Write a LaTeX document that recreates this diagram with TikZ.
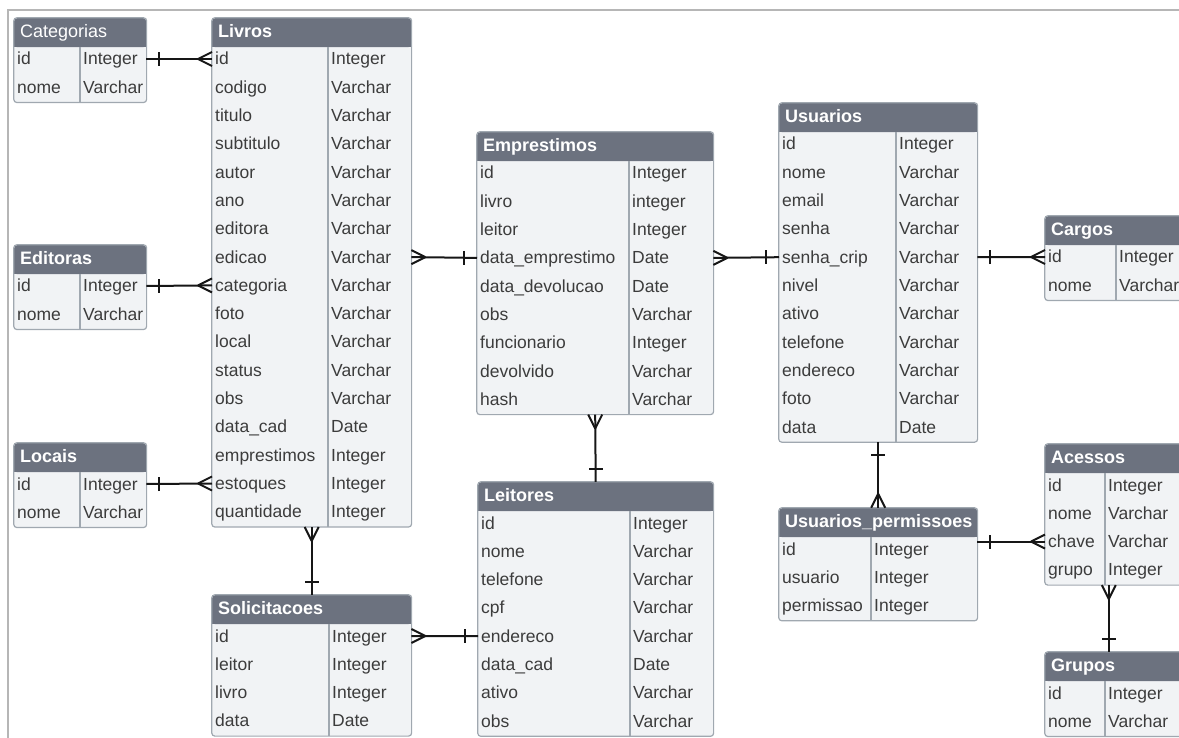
\documentclass[tikz,border=0pt]{standalone}
\usepackage{fontspec}
\setmainfont{Liberation Sans}
\usetikzlibrary{positioning, calc, fit, backgrounds}
\definecolor{headgrey}{RGB}{108,114,127}
\definecolor{rowbg}{RGB}{241,243,245}
\definecolor{cellline}{RGB}{160,168,176}
\definecolor{cellink}{RGB}{60,60,60}
\definecolor{framegrey}{RGB}{182,182,182}
\definecolor{relink}{RGB}{22,22,22}

\tikzset{
  headcell/.style={fill=headgrey, rounded corners=3pt, minimum height=29, inner sep=0pt},
  headtext/.style={text=white, font=\fontsize{18}{20}\selectfont\bfseries, inner xsep=6pt, inner ysep=0pt, text height=13pt, text depth=4pt},
  rowcell/.style={minimum height=28.3, inner sep=0pt},
  celltext/.style={text=cellink, font=\fontsize{17.5}{19}\selectfont, inner xsep=3pt, inner ysep=0pt, text height=13pt, text depth=1pt},
  cellrule/.style={draw=cellline, line width=1.2pt},
  relline/.style={draw=relink, line width=2pt},
  onebar/.pic={\draw[relline] (-13,-7) -- (-13,7);},
  crowfoot/.pic={\draw[relline] (-14,0) -- (0,-7) (-14,0) -- (0,7);}
}

% tabela: nome, x, y, largura, divisoria, titulo, campos
\newcommand{\erdtable}[7]{%
  \node[headcell, minimum width=#4, anchor=north west] (#1-head) at (#2,#3) {};
  \fill[headgrey] (#1-head.west) rectangle (#1-head.south east);
  \node[headtext, anchor=west] (#1-title) at (#1-head.west) {#6};
  \foreach \f/\t [count=\i from 0] in {#7} {
    \node[rowcell, minimum width=#4, anchor=west] (#1-\f) at (#2, #3+41+28.3*\i) {};
    \node[celltext, anchor=west] (#1-\f-n) at (#1-\f.west) {\f};
    \node[celltext, anchor=west] (#1-\f-t) at (#2+#5, #3+41+28.3*\i) {\t};
    \coordinate (#1-bot) at (#2+#4, #3+56+28.3*\i);
  }
  \node[fit=(#1-head)(#1-bot), inner sep=0pt] (#1) {};
  \begin{scope}[on background layer]
    \fill[rowbg, rounded corners=3pt] (#1.north west) rectangle (#1.south east);
  \end{scope}
  \coordinate (#1-div) at (#2+#5, #3+29);
  \draw[cellrule] (#1-div) -- (#1-div |- #1.south);
  \draw[cellrule, rounded corners=3pt] (#1.north west) rectangle (#1.south east);
}

\begin{document}
\catcode`\_=12
\begin{tikzpicture}[x=1pt, y=-1pt]
  \useasboundingbox (0,0) rectangle (1179,738);
  \clip (0,0) rectangle (1179,738);
  \draw[framegrey, line width=2pt] (8,738) -- (8,10) -- (1179,10);

  % Tabelas do acervo
  \erdtable{categorias}{14}{18}{132}{66}{\mdseries Categorias}{id/Integer, nome/Varchar}
  \erdtable{livros}{212}{18}{199}{116}{Livros}{id/Integer, codigo/Varchar, titulo/Varchar,
    subtitulo/Varchar, autor/Varchar, ano/Varchar, editora/Varchar, edicao/Varchar,
    categoria/Varchar, foto/Varchar, local/Varchar, status/Varchar, obs/Varchar,
    data_cad/Date, emprestimos/Integer, estoques/Integer, quantidade/Integer}
  \erdtable{editoras}{14}{245}{132}{66}{Editoras}{id/Integer, nome/Varchar}
  \erdtable{locais}{14}{443}{132}{66}{Locais}{id/Integer, nome/Varchar}
  \erdtable{solicitacoes}{212}{595}{199}{117}{Solicitacoes}{id/Integer, leitor/Integer,
    livro/Integer, data/Date}

  % Emprestimos e leitores
  \erdtable{emprestimos}{477}{132}{236}{152}{Emprestimos}{id/Integer, livro/integer,
    leitor/Integer, data_emprestimo/Date, data_devolucao/Date, obs/Varchar,
    funcionario/Integer, devolvido/Varchar, hash/Varchar}
  \erdtable{leitores}{478}{482}{235}{152}{Leitores}{id/Integer, nome/Varchar,
    telefone/Varchar, cpf/Varchar, endereco/Varchar, data_cad/Date, ativo/Varchar,
    obs/Varchar}

  % Usuarios e permissoes
  \erdtable{usuarios}{779}{103}{198}{117}{Usuarios}{id/Integer, nome/Varchar,
    email/Varchar, senha/Varchar, senha_crip/Varchar, nivel/Varchar, ativo/Varchar,
    telefone/Varchar, endereco/Varchar, foto/Varchar, data/Date}
  \erdtable{cargos}{1045}{216}{145}{71}{Cargos}{id/Integer, nome/Varchar}
  \erdtable{usuarios_permissoes}{779}{508}{198}{92}{Usuarios_permissoes}{id/Integer,
    usuario/Integer, permissao/Integer}
  \erdtable{acessos}{1045}{444}{145}{60}{Acessos}{id/Integer, nome/Varchar,
    chave/Varchar, grupo/Integer}
  \erdtable{grupos}{1045}{652}{145}{60}{Grupos}{id/Integer, nome/Varchar}

  % Relacionamentos horizontais
  \draw[relline] (categorias-id.east) -- (livros-id.west);
  \pic[rotate=180] at (categorias-id.east) {onebar};
  \pic at (livros-id.west) {crowfoot};

  \draw[relline] (editoras-id.east) -- (livros-categoria.west);
  \pic[rotate=180] at (editoras-id.east) {onebar};
  \pic at (livros-categoria.west) {crowfoot};

  \draw[relline] (locais-id.east) -- (livros-estoques.west);
  \pic[rotate=180] at (locais-id.east) {onebar};
  \pic at (livros-estoques.west) {crowfoot};

  \draw[relline] (livros-edicao.east) -- (emprestimos-data_emprestimo.west);
  \pic[rotate=180] at (livros-edicao.east) {crowfoot};
  \pic at (emprestimos-data_emprestimo.west) {onebar};

  \draw[relline] (emprestimos-data_emprestimo.east) -- (usuarios-senha_crip.west);
  \pic[rotate=180] at (emprestimos-data_emprestimo.east) {crowfoot};
  \pic at (usuarios-senha_crip.west) {onebar};

  \draw[relline] (usuarios-senha_crip.east) -- (cargos-id.west);
  \pic[rotate=180] at (usuarios-senha_crip.east) {onebar};
  \pic at (cargos-id.west) {crowfoot};

  \draw[relline] (solicitacoes-id.east) -- (leitores-endereco.west);
  \pic[rotate=180] at (solicitacoes-id.east) {crowfoot};
  \pic at (leitores-endereco.west) {onebar};

  \draw[relline] (usuarios_permissoes-id.east |- acessos-chave.west) -- (acessos-chave.west);
  \pic[rotate=180] at (usuarios_permissoes-id.east |- acessos-chave.west) {onebar};
  \pic at (acessos-chave.west) {crowfoot};

  % Relacionamentos verticais
  \draw[relline] (emprestimos.south) -- (leitores.north);
  \pic[rotate=90] at (emprestimos.south) {crowfoot};
  \pic[rotate=-90] at (leitores.north) {onebar};

  \draw[relline] (livros.south) -- (solicitacoes.north);
  \pic[rotate=90] at (livros.south) {crowfoot};
  \pic[rotate=-90] at (solicitacoes.north) {onebar};

  \draw[relline] (usuarios.south) -- (usuarios_permissoes.north);
  \pic[rotate=90] at (usuarios.south) {onebar};
  \pic[rotate=-90] at (usuarios_permissoes.north) {crowfoot};

  \coordinate (acgr) at ($(acessos.south west)+(64,0)$);
  \coordinate (grac) at ($(grupos.north west)+(64,0)$);
  \draw[relline] (acgr) -- (grac);
  \pic[rotate=90] at (acgr) {crowfoot};
  \pic[rotate=-90] at (grac) {onebar};
\end{tikzpicture}
\end{document}
